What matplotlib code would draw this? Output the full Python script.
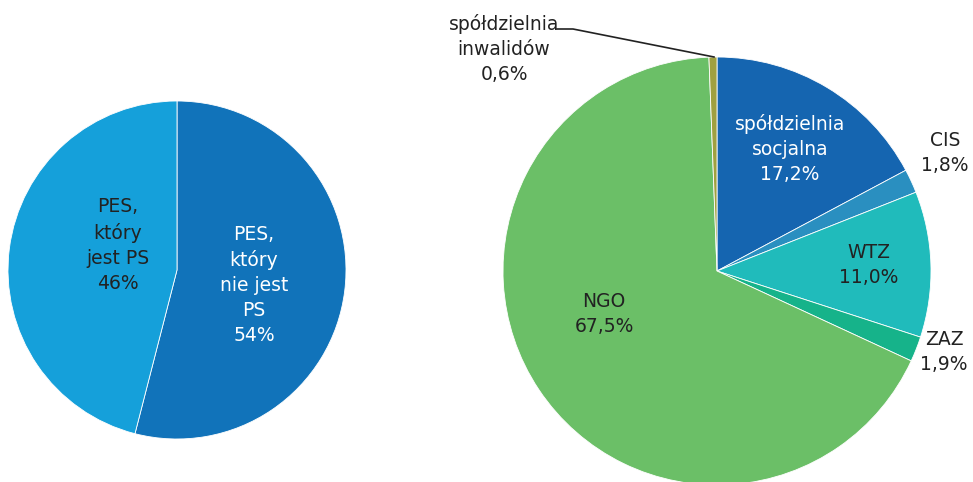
import matplotlib.pyplot as plt

# dane - lewy wykres
pes_labels = ["PES,\nktóry\nnie jest\nPS\n54%", "PES,\nktóry\njest PS\n46%"]
pes_values = [54, 46]
pes_colors = ["#1173BA", "#15A0DA"]

# dane - prawy wykres
typ_labels = ["spółdzielnia\nsocjalna\n17,2%", "CIS\n1,8%", "WTZ\n11,0%",
              "ZAZ\n1,9%", "NGO\n67,5%", "spółdzielnia\ninwalidów\n0,6%"]
typ_values = [17.2, 1.8, 11.0, 1.9, 67.5, 0.6]
typ_colors = ["#1565B0", "#2A8FC0", "#20BBBB", "#16B38A", "#6BBF67", "#A0A040"]

W, H = 973, 482
fig = plt.figure(figsize=(W / 100, H / 100), dpi=100)
ax = fig.add_axes([0, 0, 1, 1])

wp = dict(edgecolor="white", linewidth=0.6)
ax.pie(pes_values, colors=pes_colors, startangle=90, counterclock=False,
       center=(177, H - 270), radius=169, wedgeprops=wp, frame=True)
ax.pie(typ_values, colors=typ_colors, startangle=90, counterclock=False,
       center=(717, H - 271), radius=214, wedgeprops=wp, frame=True)

fs = 13.5
ls = 1.4
# etykiety lewy wykres
ax.text(254, H - 285, pes_labels[0], color="white", ha="center", va="center", fontsize=fs, linespacing=ls)
ax.text(118, H - 245, pes_labels[1], color="#222222", ha="center", va="center", fontsize=fs, linespacing=ls)

# etykiety prawy wykres
pos = [(790, 149), (945, 153), (869, 265), (944, 352), (604, 314), (504, 49)]
kolor = ["white", "#222222", "#222222", "#222222", "#222222", "#222222"]
for lab, (x, y), c in zip(typ_labels, pos, kolor):
    ax.text(x, H - y, lab, color=c, ha="center", va="center", fontsize=fs, linespacing=ls)

# linia odniesienia dla spółdzielni inwalidów
ax.plot([557, 573, 714], [H - 29, H - 29, H - 57], color="#222222", linewidth=1.2)

ax.set_xlim(0, W)
ax.set_ylim(0, H)
ax.axis("off")

fig.savefig("out.png", dpi=100)
